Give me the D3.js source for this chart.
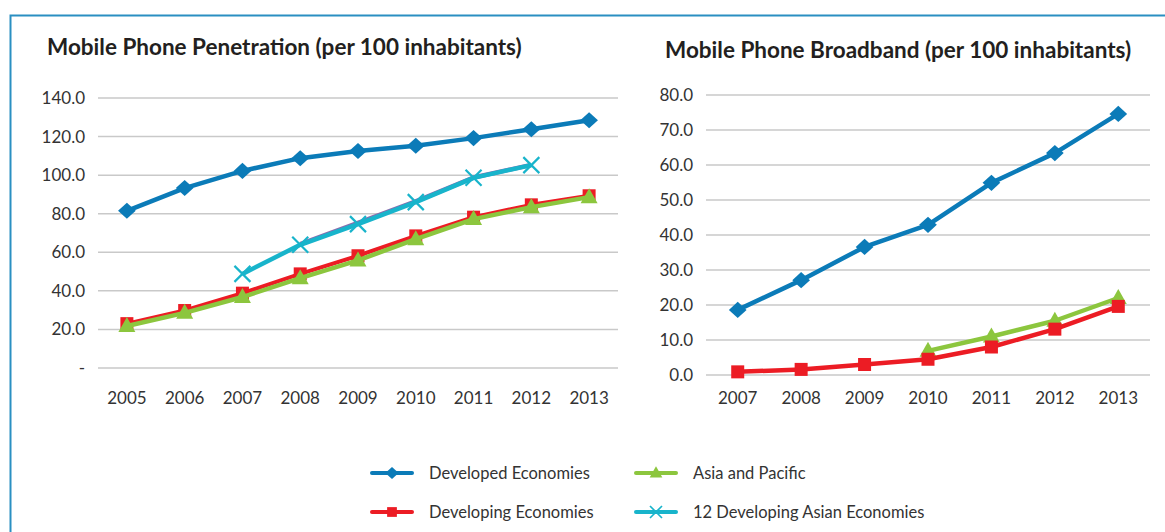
<!DOCTYPE html>
<html>
<head>
<meta charset="utf-8">
<script src="https://cdn.jsdelivr.net/npm/d3@7"></script>
<style>
  body { margin: 0; background: #fff; }
  svg text { font-family: Lato, "Open Sans", sans-serif; fill: #333; }
  .title { font-weight: 700; fill: #231f20; }
  .grid line { stroke: #c9c9c9; stroke-width: 1.5; }
</style>
</head>
<body>
<div id="chart"></div>
<script>
// --- data ---
const yearsPen = ['2005','2006','2007','2008','2009','2010','2011','2012','2013'];
const penDeveloped  = [81.5, 93.3, 102.2, 108.8, 112.5, 115.2, 119.2, 123.8, 128.5];
const penDeveloping = [23.0, 29.8, 38.8, 48.8, 58.2, 68.5, 78.2, 84.6, 89.3];
const penAsiaPac    = [21.8, 28.6, 36.8, 46.6, 55.8, 66.8, 77.2, 83.4, 88.6];
const penAsian12    = [null, null, 48.8, 63.9, 74.6, 86.0, 98.6, 105.2, null];
const penOther      = [null, null, null, 64.3, 75.3, 86.4, 98.8, 105.3, null];
const penTicks = [0, 20, 40, 60, 80, 100, 120, 140];

const yearsBb = ['2007','2008','2009','2010','2011','2012','2013'];
const bbDeveloped  = [18.6, 27.1, 36.6, 42.9, 54.9, 63.4, 74.6];
const bbDeveloping = [0.9, 1.6, 3.0, 4.5, 8.0, 13.1, 19.6];
const bbAsiaPac    = [null, null, null, 6.9, 11.0, 15.5, 22.0];
const bbTicks = [0, 10, 20, 30, 40, 50, 60, 70, 80];

const seriesNames = ['Developed Economies', 'Developing Economies', 'Asia and Pacific', '12 Developing Asian Economies'];
const colors = { dev: '#0b7bb8', ding: '#ec1c24', ap: '#8cc63e', a12: '#18b4cb', other: '#8a6cae' };

const W = 1165, H = 532;
const svg = d3.select('#chart').append('svg').attr('width', W).attr('height', H);

// frame
svg.append('path')
  .attr('d', 'M10.5,' + H + ' V15.5 H' + W)
  .attr('fill', 'none').attr('stroke', '#2a8fc2').attr('stroke-width', 2);

// marker shapes
function drawMarker(g, type, x, y, color) {
  if (type === 'diamond') {
    g.append('path').attr('d', d3.symbol(d3.symbolDiamond2, 165)())
      .attr('transform', 'translate(' + x + ',' + y + ') scale(1.1,1)').attr('fill', color);
  } else if (type === 'square') {
    g.append('rect').attr('x', x - 6.5).attr('y', y - 6.5).attr('width', 13).attr('height', 13).attr('fill', color);
  } else if (type === 'triangle') {
    g.append('path').attr('d', 'M' + x + ',' + (y - 9) + 'L' + (x + 8.5) + ',' + (y + 6) + 'L' + (x - 8.5) + ',' + (y + 6) + 'Z')
      .attr('fill', color);
  } else if (type === 'x') {
    g.append('path').attr('d', 'M' + (x - 8) + ',' + (y - 8) + 'L' + (x + 8) + ',' + (y + 8) + 'M' + (x - 8) + ',' + (y + 8) + 'L' + (x + 8) + ',' + (y - 8))
      .attr('stroke', color).attr('stroke-width', 2.2).attr('fill', 'none');
  }
}

function makeChart(opt) {
  const g = svg.append('g');
  const x = d3.scaleBand().domain(opt.years).range([opt.x0, opt.x1]);
  const y = d3.scaleLinear().domain([opt.ticks[0], opt.ticks[opt.ticks.length - 1]]).range([opt.y0, opt.y1]);

  g.append('text').attr('class', 'title').attr('x', opt.titleX).attr('y', opt.titleY)
    .style('font-size', '22.5px').text(opt.title);

  // gridlines
  const grid = g.append('g').attr('class', 'grid');
  grid.selectAll('line').data(opt.ticks).join('line')
    .attr('x1', opt.x0).attr('x2', opt.x1)
    .attr('y1', d => y(d)).attr('y2', d => y(d));

  // y axis labels
  const yAxis = g.append('g').attr('transform', 'translate(' + opt.x0 + ',0)')
    .call(d3.axisLeft(y).tickValues(opt.ticks).tickSize(0).tickPadding(13)
      .tickFormat(opt.fmt));
  yAxis.select('.domain').remove();
  yAxis.selectAll('text').style('font-size', '17px').style('font-family', 'Lato, sans-serif').attr('fill', '#333');

  // x axis labels
  const xAxis = g.append('g').attr('transform', 'translate(0,' + opt.y0 + ')')
    .call(d3.axisBottom(x).tickSize(0).tickPadding(opt.xPad));
  xAxis.select('.domain').remove();
  xAxis.selectAll('text').style('font-size', '17px').style('font-family', 'Lato, sans-serif').attr('fill', '#333');

  const cx = d => x(d) + x.bandwidth() / 2;
  opt.series.forEach(s => {
    const pts = opt.years.map((yr, i) => ({ yr: yr, v: s.values[i] })).filter(p => p.v != null);
    const line = d3.line().x(p => cx(p.yr)).y(p => y(p.v));
    g.append('path').datum(pts).attr('d', line)
      .attr('fill', 'none').attr('stroke', s.color).attr('stroke-width', s.width)
      .attr('stroke-linejoin', 'round');
    if (s.marker) pts.forEach(p => drawMarker(g, s.marker, cx(p.yr), y(p.v), s.color));
  });
}

makeChart({
  title: 'Mobile Phone Penetration (per 100 inhabitants)', titleX: 47, titleY: 55,
  years: yearsPen, ticks: penTicks, x0: 98, x1: 618, y0: 368, y1: 98, xPad: 24,
  fmt: d => d === 0 ? '-' : d3.format('.1f')(d),
  series: [
    { values: penOther, color: colors.other, width: 4.5, marker: null },
    { values: penDeveloped, color: colors.dev, width: 4.5, marker: 'diamond' },
    { values: penDeveloping, color: colors.ding, width: 4, marker: 'square' },
    { values: penAsiaPac, color: colors.ap, width: 4.5, marker: 'triangle' },
    { values: penAsian12, color: colors.a12, width: 4.5, marker: 'x' }
  ]
});

makeChart({
  title: 'Mobile Phone Broadband (per 100 inhabitants)', titleX: 665, titleY: 58,
  years: yearsBb, ticks: bbTicks, x0: 706, x1: 1150, y0: 375, y1: 95, xPad: 17,
  fmt: d3.format('.1f'),
  series: [
    { values: bbDeveloped, color: colors.dev, width: 4.5, marker: 'diamond' },
    { values: bbAsiaPac, color: colors.ap, width: 4.5, marker: 'triangle' },
    { values: bbDeveloping, color: colors.ding, width: 4.5, marker: 'square' }
  ]
});

// legend
const legendItems = [
  { name: seriesNames[0], color: colors.dev, marker: 'diamond', x: 372, y: 473 },
  { name: seriesNames[1], color: colors.ding, marker: 'square', x: 372, y: 512 },
  { name: seriesNames[2], color: colors.ap, marker: 'triangle', x: 636, y: 473 },
  { name: seriesNames[3], color: colors.a12, marker: 'x', x: 636, y: 512 }
];
const lg = svg.append('g');
legendItems.forEach(it => {
  lg.append('line').attr('x1', it.x).attr('x2', it.x + 40).attr('y1', it.y).attr('y2', it.y)
    .attr('stroke', it.color).attr('stroke-width', 4).attr('stroke-linecap', 'round');
  const m = lg.append('g').attr('transform', 'translate(' + (it.x + 20) + ',' + it.y + ') scale(0.75)');
  drawMarker(m, it.marker, 0, 0, it.color);
  lg.append('text').attr('x', it.x + 57).attr('y', it.y + 6)
    .style('font-size', '16.5px').text(it.name);
});
</script>
</body>
</html>
